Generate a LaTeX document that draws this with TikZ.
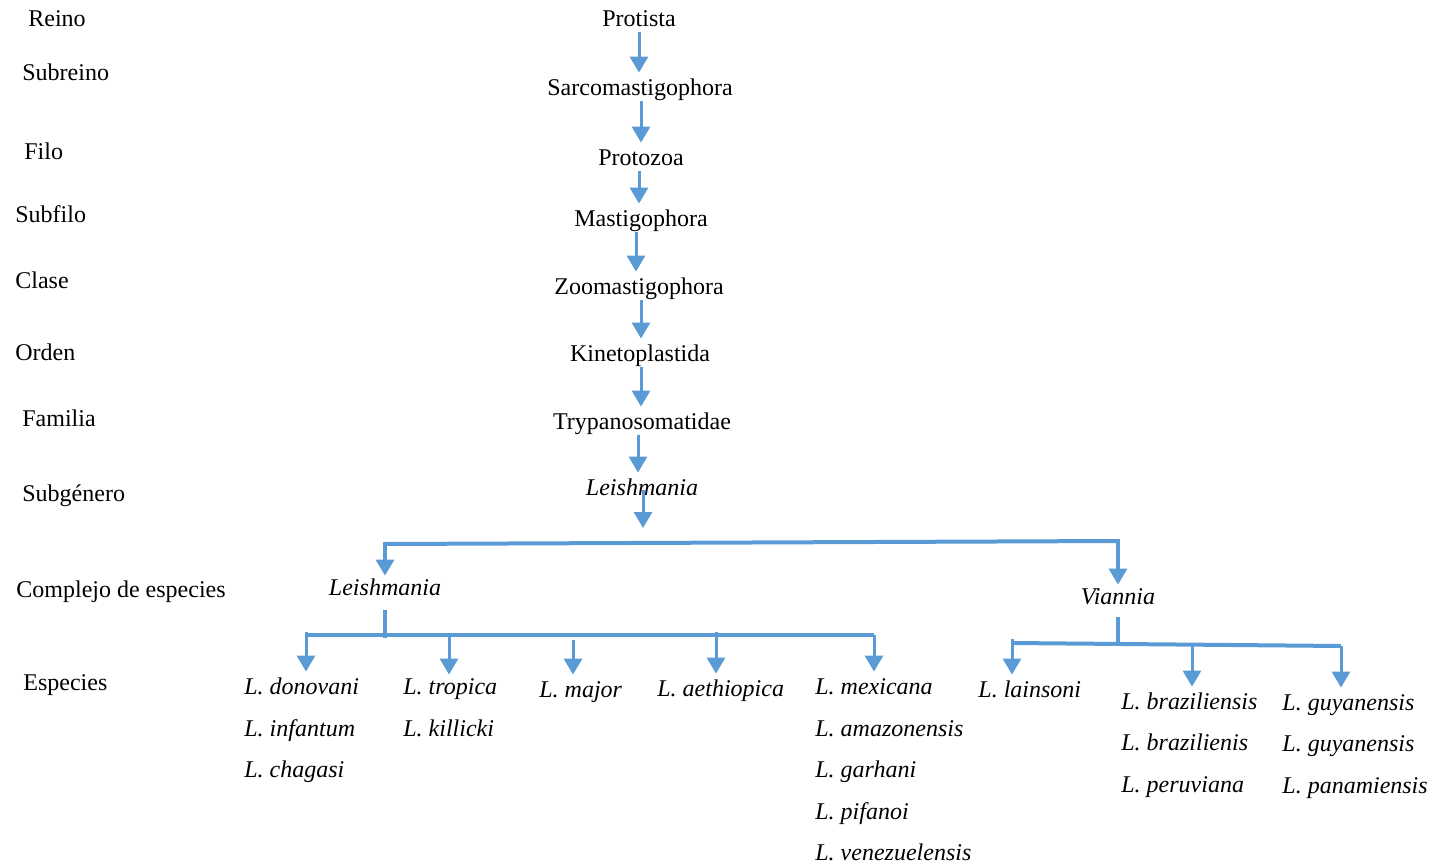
\documentclass[tikz,border=0pt]{standalone}
\usepackage{fontspec}
\setmainfont{Liberation Serif}
\usetikzlibrary{arrows.meta}
\definecolor{lineblue}{HTML}{5B9BD5}
\begin{document}
\begin{tikzpicture}[x=0.5pt,y=-0.5pt,
  every node/.style={font=\fontsize{12pt}{14pt}\selectfont, inner sep=0pt, text height=9.5pt, text depth=1.5pt},
  taxon/.style={inner ysep=1.5pt},
  rank/.style={anchor=west},
  sp/.style={anchor=west, inner ysep=1.5pt, font=\fontsize{12pt}{14pt}\selectfont\itshape},
  arr/.style={draw=lineblue, line width=1.5pt, -{Triangle[width=9pt,length=8pt]}},
  bar/.style={draw=lineblue, line width=2pt},
  stemline/.style={draw=lineblue, line width=1.8pt},
]
\useasboundingbox (0,0) rectangle (1432,867);

% rank labels
\node[rank] (rReino) at (28,18) {Reino};
\node[rank] (rSubreino) at (22,72) {Subreino};
\node[rank] (rFilo) at (24,151) {Filo};
\node[rank] (rSubfilo) at (15,214) {Subfilo};
\node[rank] (rClase) at (15,280) {Clase};
\node[rank] (rOrden) at (15,352) {Orden};
\node[rank] (rFamilia) at (22,418) {Familia};
\node[rank] (rSubgenero) at (22,493) {Subgénero};
\node[rank] (rComplejo) at (16,589) {Complejo de especies};
\node[rank] (rEspecies) at (23,682) {Especies};

% main chain
\node[taxon] (protista) at (639,18) {Protista};
\node[taxon] (sarco) at (640,87) {Sarcomastigophora};
\node[taxon] (protozoa) at (641,157) {Protozoa};
\node[taxon] (masti) at (641,218) {Mastigophora};
\node[taxon] (zoomasti) at (639,286) {Zoomastigophora};
\node[taxon] (kineto) at (640,353) {Kinetoplastida};
\node[taxon] (trypa) at (642,421) {Trypanosomatidae};
\node[taxon,font=\fontsize{12pt}{14pt}\selectfont\itshape] (leish) at (642,487) {Leishmania};

\coordinate (a1) at (639,0);
\coordinate (a2) at (641,0);
\coordinate (a3) at (639,0);
\coordinate (a4) at (636,0);
\coordinate (a5) at (641,0);
\coordinate (a6) at (641,0);
\coordinate (a7) at (638,0);
\draw[arr] (a1 |- protista.south) -- (a1 |- sarco.north);
\draw[arr] (a2 |- sarco.south) -- (a2 |- protozoa.north);
\draw[arr] (a3 |- protozoa.south) -- (a3 |- masti.north);
\draw[arr] (a4 |- masti.south) -- (a4 |- zoomasti.north);
\draw[arr] (a5 |- zoomasti.south) -- (a5 |- kineto.north);
\draw[arr] (a6 |- kineto.south) -- (a6 |- trypa.north);
\draw[arr] (a7 |- trypa.south) -- (a7 |- leish.north);

\coordinate (lstart) at (643,490);
\coordinate (ltip) at (643,528);
\draw[arr] (lstart) -- (ltip);

% complexes
\node[taxon,inner ysep=0pt,font=\fontsize{12pt}{14pt}\selectfont\itshape] (leishC) at (385,587) {Leishmania};
\node[taxon,inner ysep=0pt,font=\fontsize{12pt}{14pt}\selectfont\itshape] (vian) at (1118,596) {Viannia};

\coordinate (bl) at (385,544);
\coordinate (br) at (1118,541);
\draw[bar] (bl) -- (br);
\draw[arr, line width=1.7pt] ([yshift=0.9pt]bl) -- (bl |- leishC.north);
\draw[arr, line width=1.7pt] ([yshift=0.9pt]br) -- (br |- vian.north);

% Leishmania complex species
\node[sp] (don) at (244,686) {L. donovani};
\node[sp] (inf) at (244,728) {L. infantum};
\node[sp] (cha) at (244,769) {L. chagasi};
\node[sp] (tro) at (403,686) {L. tropica};
\node[sp] (kil) at (403,728) {L. killicki};
\node[sp] (maj) at (539,689) {L. major};
\node[sp] (aet) at (657,688) {L. aethiopica};
\node[sp] (mex) at (815,686) {L. mexicana};
\node[sp] (ama) at (815,728) {L. amazonensis};
\node[sp] (gar) at (815,769) {L. garhani};
\node[sp] (pif) at (815,811) {L. pifanoi};
\node[sp] (ven) at (815,852) {L. venezuelensis};

\coordinate (lstem) at (385,610);
\coordinate (lh) at (385,638);
\coordinate (lh1) at (306,635);
\coordinate (lh1a) at (306,632);
\coordinate (lh2) at (449,635);
\coordinate (lh3) at (573,640);
\coordinate (lh4) at (716,632);
\coordinate (lh5) at (874,635);
\draw[stemline] (lstem) -- (lh);
\draw[bar] (lh1) -- (lh5);
\draw[arr] (lh1a) -- (lh1 |- don.north);
\draw[arr] (lh2) -- ([yshift=-1.5pt]lh2 |- tro.north);
\draw[arr] (lh3) -- (lh3 |- maj.north);
\draw[arr] (lh4) -- (lh4 |- aet.north);
\draw[arr] (lh5) -- (lh5 |- mex.north);

% Viannia complex species
\node[sp] (lai) at (978,689) {L. lainsoni};
\node[sp] (bra) at (1121,701) {L. braziliensis};
\node[sp] (bra2) at (1121,742) {L. brazilienis};
\node[sp] (per) at (1121,784) {L. peruviana};
\node[sp] (guy) at (1282,702) {L. guyanensis};
\node[sp] (guy2) at (1282,743) {L. guyanensis};
\node[sp] (pan) at (1282,785) {L. panamiensis};

\coordinate (vstem) at (1118,617);
\coordinate (vh) at (1118,645);
\coordinate (vh1) at (1012,643);
\coordinate (vh1a) at (1012,639);
\coordinate (vh2) at (1192,645);
\coordinate (vh3) at (1341,646);
\draw[stemline] (vstem) -- (vh);
\draw[bar] (vh1) -- (vh3);
\draw[arr] (vh1a) -- (vh1a |- lai.north);
\draw[arr] (vh2) -- (vh2 |- bra.north);
\draw[arr] (vh3) -- (vh3 |- guy.north);
\end{tikzpicture}
\end{document}
